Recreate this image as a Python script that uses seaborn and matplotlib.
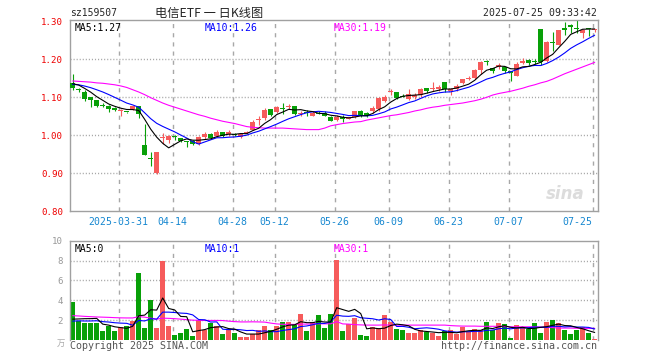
import numpy as np
import pandas as pd
import matplotlib
matplotlib.use("Agg")
import matplotlib.pyplot as plt
import seaborn as sns

# daily bars for sz159507, 2025-03-19 .. 2025-07-25 (88 sessions)
open_ = [1.138, 1.122, 1.114, 1.100, 1.094, 1.079, 1.076, 1.072, 1.063, 1.062,
         1.069, 1.078, 0.975, 0.940, 0.901, 0.992, 0.988, 0.997, 0.993, 0.986,
         0.984, 0.978, 0.995, 1.004, 0.999, 1.010, 1.003, 1.003, 0.996, 1.006,
         1.015, 1.039, 1.045, 1.068, 1.062, 1.070, 1.075, 1.078, 1.057, 1.060,
         1.052, 1.060, 1.060, 1.049, 1.040, 1.047, 1.044, 1.048, 1.065, 1.058,
         1.063, 1.068, 1.091, 1.113, 1.113, 1.103, 1.096, 1.100, 1.105, 1.124,
         1.121, 1.121, 1.140, 1.117, 1.122, 1.138, 1.147, 1.150, 1.172, 1.193,
         1.176, 1.180, 1.181, 1.170, 1.157, 1.190, 1.198, 1.195, 1.281, 1.196,
         1.245, 1.239, 1.283, 1.290, 1.282, 1.268, 1.280, 1.277]
high = [1.162, 1.124, 1.118, 1.100, 1.094, 1.085, 1.081, 1.074, 1.070, 1.062,
        1.078, 1.078, 1.030, 0.956, 0.956, 1.005, 1.000, 1.002, 0.993, 0.986,
        0.987, 0.997, 1.008, 1.005, 1.013, 1.010, 1.015, 1.006, 1.006, 1.011,
        1.039, 1.052, 1.071, 1.068, 1.076, 1.085, 1.083, 1.078, 1.063, 1.066,
        1.064, 1.064, 1.064, 1.052, 1.053, 1.054, 1.049, 1.065, 1.067, 1.061,
        1.076, 1.102, 1.105, 1.122, 1.113, 1.108, 1.122, 1.111, 1.124, 1.124,
        1.140, 1.133, 1.140, 1.124, 1.135, 1.149, 1.157, 1.175, 1.196, 1.199,
        1.178, 1.190, 1.181, 1.170, 1.192, 1.203, 1.201, 1.201, 1.281, 1.248,
        1.272, 1.277, 1.298, 1.292, 1.303, 1.279, 1.281, 1.280]
low = [1.118, 1.113, 1.091, 1.074, 1.075, 1.074, 1.061, 1.063, 1.050, 1.060,
       1.067, 1.045, 0.947, 0.918, 0.897, 0.976, 0.979, 0.987, 0.982, 0.970,
       0.975, 0.975, 0.990, 0.990, 0.995, 0.996, 0.999, 0.999, 0.994, 1.004,
       1.013, 1.028, 1.041, 1.050, 1.059, 1.057, 1.068, 1.054, 1.052, 1.050,
       1.050, 1.055, 1.050, 1.037, 1.038, 1.035, 1.042, 1.046, 1.049, 1.047,
       1.060, 1.065, 1.087, 1.107, 1.095, 1.100, 1.093, 1.095, 1.101, 1.111,
       1.117, 1.117, 1.114, 1.105, 1.116, 1.136, 1.145, 1.148, 1.161, 1.185,
       1.163, 1.175, 1.163, 1.142, 1.157, 1.189, 1.185, 1.187, 1.185, 1.194,
       1.222, 1.237, 1.264, 1.268, 1.268, 1.257, 1.262, 1.272]
close = [1.125, 1.118, 1.096, 1.092, 1.078, 1.077, 1.069, 1.066, 1.067, 1.061,
         1.076, 1.057, 0.949, 0.938, 0.956, 0.995, 0.997, 0.995, 0.984, 0.982,
         0.978, 0.996, 1.004, 0.994, 1.010, 0.997, 1.010, 1.002, 1.004, 1.009,
         1.036, 1.042, 1.066, 1.054, 1.075, 1.069, 1.078, 1.057, 1.059, 1.058,
         1.060, 1.056, 1.052, 1.038, 1.049, 1.043, 1.047, 1.063, 1.054, 1.051,
         1.072, 1.098, 1.100, 1.116, 1.098, 1.102, 1.108, 1.105, 1.122, 1.117,
         1.123, 1.126, 1.121, 1.122, 1.131, 1.147, 1.152, 1.172, 1.194, 1.192,
         1.168, 1.185, 1.168, 1.163, 1.189, 1.196, 1.190, 1.194, 1.192, 1.246,
         1.244, 1.277, 1.277, 1.284, 1.281, 1.277, 1.279, 1.279]
volume = [3.8, 1.9, 1.73, 1.73, 1.73, 0.9, 1.4, 0.9, 1.3, 1.4,
          1.9, 6.7, 1.23, 4.0, 1.23, 8.0, 1.4, 0.5, 0.73, 1.1,
          0.4, 2.0, 1.0, 1.73, 1.4, 0.6, 1.0, 0.73, 0.33, 0.33,
          0.6, 1.0, 1.4, 1.0, 1.4, 1.83, 1.83, 1.57, 2.6, 0.9,
          1.83, 2.5, 1.23, 2.6, 8.1, 0.9, 1.6, 2.23, 0.5, 0.4,
          1.33, 1.23, 2.5, 1.83, 1.1, 1.0, 0.73, 0.73, 1.0, 0.83,
          0.73, 0.4, 0.9, 1.0, 0.6, 1.33, 0.83, 1.1, 1.0, 1.83,
          1.0, 1.73, 1.6, 0.23, 1.5, 1.33, 1.1, 1.73, 0.73, 1.83,
          2.0, 1.73, 1.0, 0.6, 1.0, 1.33, 0.73, 0.13]

# sessions just before the window (estimated), only feed the MA5 / MA10 lines
prior_close = [1.128, 1.130, 1.134, 1.133, 1.135, 1.137, 1.140, 1.141, 1.137]
prior_volume = [1.6, 1.9, 1.7, 1.5, 1.8, 1.8, 1.6, 1.7, 1.6]

# MA30 lines as drawn on the chart
ma30_price = [1.143, 1.142, 1.141, 1.140, 1.138, 1.137, 1.135, 1.133, 1.130, 1.126,
              1.120, 1.114, 1.107, 1.099, 1.092, 1.085, 1.079, 1.074, 1.069, 1.064,
              1.059, 1.054, 1.050, 1.045, 1.041, 1.037, 1.034, 1.031, 1.027, 1.023,
              1.021, 1.020, 1.019, 1.019, 1.019, 1.019, 1.018, 1.017, 1.016, 1.015,
              1.015, 1.015, 1.019, 1.025, 1.028, 1.031, 1.033, 1.035, 1.036, 1.040,
              1.043, 1.046, 1.049, 1.052, 1.054, 1.057, 1.060, 1.064, 1.067, 1.071,
              1.074, 1.076, 1.079, 1.081, 1.083, 1.085, 1.088, 1.091, 1.095, 1.100,
              1.106, 1.110, 1.113, 1.116, 1.120, 1.124, 1.129, 1.133, 1.138, 1.142,
              1.148, 1.155, 1.162, 1.168, 1.174, 1.180, 1.186, 1.192]
ma30_volume = [2.45, 2.42, 2.38, 2.35, 2.32, 2.30, 2.28, 2.25, 2.23, 2.22,
               2.22, 2.35, 2.30, 2.20, 2.10, 2.20, 2.18, 2.15, 2.10, 2.05,
               2.00, 1.98, 1.97, 1.97, 1.97, 1.96, 1.90, 1.85, 1.82, 1.82,
               1.83, 1.82, 1.80, 1.70, 1.62, 1.58, 1.57, 1.57, 1.60, 1.60,
               1.62, 1.63, 1.63, 1.63, 1.85, 1.62, 1.60, 1.55, 1.52, 1.50,
               1.50, 1.50, 1.52, 1.50, 1.50, 1.50, 1.50, 1.50, 1.50, 1.50,
               1.50, 1.50, 1.50, 1.45, 1.42, 1.40, 1.40, 1.40, 1.38, 1.38,
               1.38, 1.38, 1.36, 1.33, 1.33, 1.33, 1.33, 1.33, 1.30, 1.28,
               1.25, 1.20, 1.20, 1.20, 1.18, 1.17, 1.17, 1.17]

# legend readouts as printed in the chart header rows
price_ma_text = ["MA5:1.27", "MA10:1.26", "MA30:1.19"]
vol_ma_text = ["MA5:0", "MA10:1", "MA30:1"]

date_pos = [8, 17, 27, 34, 44, 53, 63, 73, 87]
date_labels = ["2025-03-31", "04-14", "04-28", "05-12", "05-26",
               "06-09", "06-23", "07-07", "07-25"]
price_ticks = [0.80, 0.90, 1.00, 1.10, 1.20, 1.30]
vol_ticks = [2, 4, 6, 8, 10]

UP, DOWN = "#f65b5b", "#08a008"
GRID = "#a8a8a8"
MA_COLORS = ["black", "#0000ff", "#ff00ff"]
MONO = "DejaVu Sans Mono"

sns.set_style("white")
plt.rcParams["font.family"] = [MONO, "Noto Sans CJK SC"]

W, H = 660, 360
fig = plt.figure(figsize=(W / 100, H / 100), dpi=100)


def frac(x0, y0, x1, y1):
    return [x0 / W, 1 - y1 / H, (x1 - x0) / W, (y1 - y0) / H]


ax = fig.add_axes(frac(70, 20, 598, 211.3))
axv = fig.add_axes(frac(70, 240.7, 598, 340))

idx = np.arange(len(close))
o, c = np.array(open_), np.array(close)
colors = np.where(c >= o, UP, DOWN)

closes = pd.Series(prior_close + close)
vols = pd.Series(prior_volume + volume)
n0 = len(prior_close)
ma5 = closes.rolling(5).mean().values[n0:]
ma10 = closes.rolling(10).mean().values[n0:]
vma5 = vols.rolling(5).mean().values[n0:]
vma10 = vols.rolling(10).mean().values[n0:]

grid_x = np.array(date_pos) - 0.35
xlim = (-0.45, len(close) - 0.45)
LW = 0.8

# ---- price panel ----
for gx in grid_x:
    ax.axvline(gx, color=GRID, lw=1, ls=(0, (3, 3.6)), zorder=0)
for gy in price_ticks[1:-1]:
    ax.axhline(gy, color=GRID, lw=1, ls=(0, (0.8, 1.4)), zorder=0)

ax.vlines(idx, low, high, colors=colors, lw=LW, zorder=2)
ax.bar(idx, np.maximum(np.abs(c - o), 0.0027), bottom=np.minimum(o, c),
       width=0.8, color=colors, linewidth=0, zorder=3)
sns.lineplot(x=idx, y=ma30_price, color=MA_COLORS[2], lw=LW, ax=ax, zorder=4)
sns.lineplot(x=idx, y=ma10, color=MA_COLORS[1], lw=LW, ax=ax, zorder=4)
sns.lineplot(x=idx, y=ma5, color=MA_COLORS[0], lw=LW, ax=ax, zorder=5)

ax.set_xlim(*xlim)
ax.set_ylim(0.80, 1.3035)
ax.set_yticks(price_ticks)
ax.set_yticklabels([f"{v:.2f}" for v in price_ticks])
ax.set_xticks(grid_x)
ax.set_xticklabels(date_labels)
ax.get_xticklabels()[-1].set_horizontalalignment("right")
ax.tick_params(axis="y", length=0, pad=5, labelsize=6.6, labelcolor="#ee0000")
ax.tick_params(axis="x", length=0, pad=4, labelsize=7.1, labelcolor="#1687d0")
ax.set_xlabel("")
ax.set_ylabel("")

for txt, xp, col in zip(price_ma_text, [5, 135, 264], MA_COLORS):
    ax.text(xp / 528, 0.985, txt, transform=ax.transAxes,
            fontsize=7, color=col, va="top")
ax.text(0.975, 0.09, "sina", transform=ax.transAxes, fontsize=12,
        fontstyle="italic", fontweight="bold", color="#dcdcdc",
        family="DejaVu Sans", ha="right", va="center", zorder=1)

# ---- volume panel ----
for gx in grid_x:
    axv.axvline(gx, color=GRID, lw=1, ls=(0, (3, 3.6)), zorder=0)
for gy in vol_ticks[:-1]:
    axv.axhline(gy, color=GRID, lw=1, ls=(0, (0.8, 1.4)), zorder=0)

axv.bar(idx, volume, width=0.8, color=colors, linewidth=0, zorder=2)
sns.lineplot(x=idx, y=ma30_volume, color=MA_COLORS[2], lw=LW, ax=axv, zorder=3)
sns.lineplot(x=idx, y=vma10, color=MA_COLORS[1], lw=LW, ax=axv, zorder=3)
sns.lineplot(x=idx, y=vma5, color=MA_COLORS[0], lw=LW, ax=axv, zorder=4)

axv.set_xlim(*xlim)
axv.set_ylim(0, 10)
axv.set_yticks(vol_ticks)
axv.set_yticklabels([str(v) for v in vol_ticks])
axv.set_xticks(grid_x)
axv.set_xticklabels([])
axv.tick_params(axis="y", length=0, pad=5, labelsize=6.6, labelcolor="#999999")
axv.tick_params(axis="x", length=0)
axv.set_xlabel("")
axv.set_ylabel("")
axv.spines["bottom"].set_visible(False)

for txt, xp, col in zip(vol_ma_text, [5, 135, 264], MA_COLORS):
    axv.text(xp / 528, 0.97, txt, transform=axv.transAxes,
             fontsize=7, color=col, va="top")

for a in (ax, axv):
    for s in a.spines.values():
        s.set_color("#a0a0a0")
        s.set_linewidth(1)

# ---- header / footer ----
fig.text(70 / W, 1 - 13 / H, "sz159507", fontsize=7, va="center", ha="left")
fig.text(209 / W, 1 - 13 / H, "电信ETF 一 日K线图", fontsize=8.8, va="center",
         ha="center", family=["Noto Sans CJK SC", "DejaVu Sans"])
fig.text(597 / W, 1 - 13 / H, "2025-07-25 09:33:42", fontsize=7.1,
         va="center", ha="right")
fig.text(70 / W, 1 - 346 / H, "Copyright 2025 SINA.COM", fontsize=7.2,
         color="#555555", va="center", ha="left")
fig.text(597 / W, 1 - 346 / H, "http://finance.sina.com.cn", fontsize=7.2,
         color="#555555", va="center", ha="right")
fig.text(65 / W, 1 - 343 / H, "万", fontsize=6, color="#aaaaaa",
         va="center", ha="right", family=["Noto Sans CJK SC", "DejaVu Sans"])

fig.savefig("out.png", dpi=100)
